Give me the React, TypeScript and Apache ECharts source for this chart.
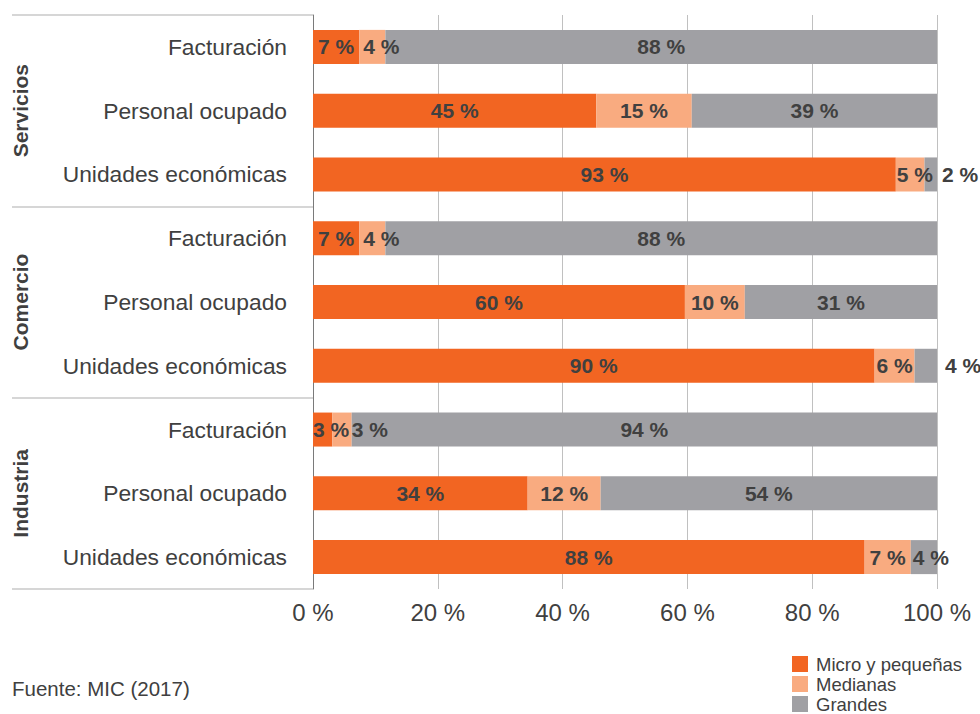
import React, { useEffect, useRef } from "react";
import * as echarts from "echarts";

const groups = ["Servicios", "Comercio", "Industria"];
const indicators = ["Facturación", "Personal ocupado", "Unidades económicas"];
const seriesNames = ["Micro y pequeñas", "Medianas", "Grandes"];
// one value per row: Servicios (3 rows), Comercio (3 rows), Industria (3 rows)
const micro = [7.4, 45.4, 93.4, 7.4, 59.6, 90.0, 3.1, 34.4, 88.4];
const medianas = [4.2, 15.3, 4.6, 4.2, 9.6, 6.4, 3.1, 11.7, 7.4];
const grandes = [88.4, 39.3, 2.0, 88.4, 30.8, 3.6, 93.8, 53.9, 4.2];
const xTicks = [0, 20, 40, 60, 80, 100];
const source = "Fuente: MIC (2017)";

const colors = ["#F26522", "#F9AB80", "#A0A0A4"];
const TXT = "#404040";
const FONT = "'Liberation Sans', Arial, Helvetica, sans-serif";

// label placement overrides: [seriesIndex, rowIndex] -> label options
const labelOverrides: Record<string, any> = {
  "1-0": { position: "insideLeft", distance: 4 },
  "1-3": { position: "insideLeft", distance: 4 },
  "1-2": { position: "insideLeft", distance: 1 },
  "2-2": { position: "right", distance: 5 },
  "2-5": { position: "right", distance: 8 },
  "0-6": { position: "insideLeft", distance: 0 },
  "1-6": { position: "right", distance: 0 },
  "2-8": { position: "insideLeft", distance: 2 },
};

export default function App() {
  const ref = useRef<HTMLDivElement>(null);
  useEffect(() => {
    if (!ref.current) return;
    const chart = echarts.init(ref.current, null, { renderer: "svg" });
    const keys = groups.flatMap((g) => indicators.map((i) => g + "|" + i));
    const all = [micro, medianas, grandes];
    const series = all.map((vals, si) => ({
      name: seriesNames[si],
      type: "bar",
      stack: "total",
      barWidth: 34,
      yAxisIndex: 0,
      itemStyle: { color: colors[si] },
      label: {
        show: true,
        position: "inside",
        formatter: (p: any) => Math.round(p.value) + " %",
        fontFamily: FONT,
        fontWeight: "bold",
        fontSize: 21,
        color: TXT,
      },
      data: vals.map((v, ri) => {
        const o = labelOverrides[si + "-" + ri];
        return o ? { value: v, label: o } : v;
      }),
    }));
    chart.setOption({
      animation: false,
      textStyle: { fontFamily: FONT },
      title: {
        text: source,
        left: 12,
        top: 678,
        padding: 0,
        textStyle: { fontFamily: FONT, fontSize: 20.5, fontWeight: "normal", color: TXT },
      },
      legend: {
        orient: "vertical",
        left: 792,
        top: 654,
        height: 120,
        padding: 0,
        itemWidth: 16,
        itemHeight: 16,
        itemGap: 0,
        icon: "rect",
        selectedMode: false,
        data: seriesNames,
        textStyle: { fontFamily: FONT, fontSize: 18.5, lineHeight: 20, color: TXT, padding: [0, 0, 0, 3] },
      },
      grid: { left: 313, right: 43, top: 15, bottom: 125, containLabel: false, outerBoundsMode: "none" },
      xAxis: {
        type: "value",
        min: xTicks[0],
        max: xTicks[xTicks.length - 1],
        interval: xTicks[1] - xTicks[0],
        axisLine: { show: false },
        axisTick: { show: false },
        splitLine: { show: true, lineStyle: { color: "#c0c0c0", width: 1 } },
        axisLabel: { formatter: "{value} %", fontFamily: FONT, fontSize: 24, color: TXT, margin: 11 },
      },
      yAxis: [
        {
          type: "category",
          inverse: true,
          data: keys,
          axisLine: { show: true, lineStyle: { color: "#7a7a7a", width: 1 } },
          axisTick: {
            show: true,
            alignWithLabel: false,
            interval: (i: number) => i % 3 === 0,
            length: 301,
            lineStyle: { color: "#c8c8c8", width: 1.5 },
          },
          splitLine: { show: false },
          axisLabel: {
            formatter: (v: string) => v.split("|")[1],
            fontFamily: FONT,
            fontSize: 22.8,
            color: TXT,
            margin: 26,
          },
        },
        {
          type: "category",
          inverse: true,
          data: groups,
          position: "left",
          offset: 282,
          axisLine: { show: false },
          axisTick: { show: false },
          splitLine: { show: false },
          axisLabel: {
            rotate: 90,
            margin: 0,
            fontFamily: FONT,
            fontSize: 21,
            fontWeight: "bold",
            color: TXT,
          },
        },
      ],
      series,
    });
    return () => chart.dispose();
  }, []);
  return (
    <div
      ref={ref}
      style={{ position: "fixed", left: 0, top: 0, width: 980, height: 714, background: "#fff" }}
    />
  );
}
